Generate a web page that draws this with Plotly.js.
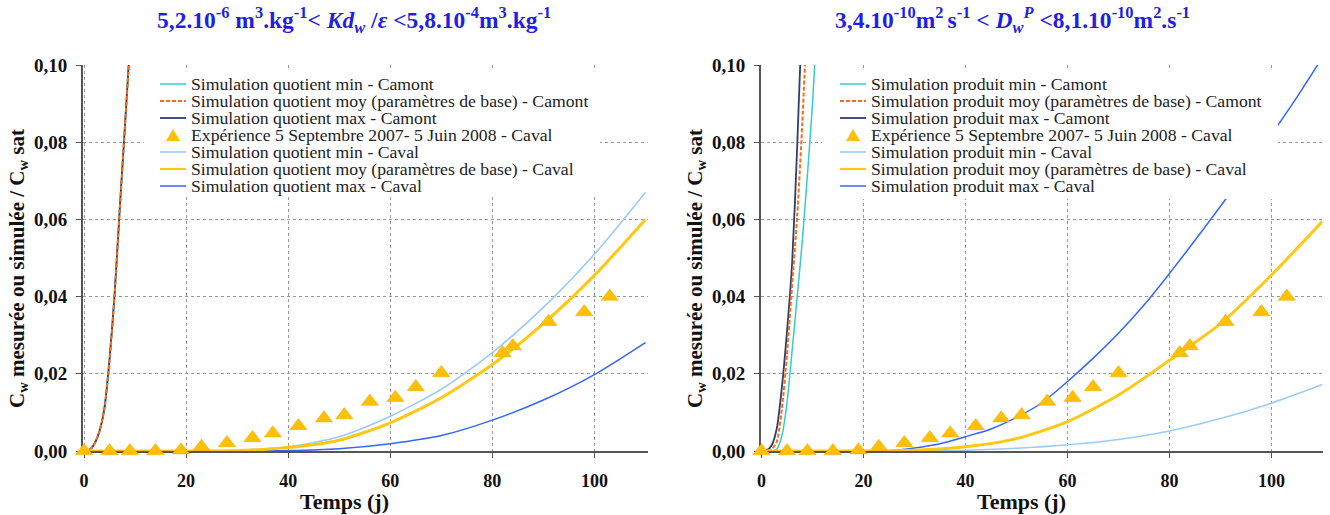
<!DOCTYPE html>
<html><head><meta charset="utf-8">
<script src="https://cdn.plot.ly/plotly-3.0.1.min.js"></script>
<style>html,body{margin:0;padding:0;background:#fff}#chart{width:1330px;height:515px}</style>
</head><body><div id="chart"></div><script>
// ---------- DATA ----------
const expDays   = [0,5,9,14,19,23,28,33,37,42,47,51,56,61,65,70,82,84,91,98,103];
const expValues = [0,0,0,0,0.0002,0.0011,0.0021,0.0034,0.0046,0.0065,0.0085,0.0093,0.0128,0.0138,0.0166,0.0202,0.0254,0.0272,0.0335,0.0360,0.0400];

// Left chart: "quotient"
const quotCamontDays = [0,1,2,3,4,5,6,7,8,9];
const quotCamontMin  = [0,0.0002,0.0018,0.0050,0.0110,0.0235,0.0405,0.0625,0.0835,0.1050];
const quotCamontMoy  = [0,0.0002,0.0018,0.0050,0.0110,0.0235,0.0405,0.0625,0.0835,0.1050];
const quotCamontMax  = [0,0.0002,0.0018,0.0050,0.0112,0.0238,0.0408,0.0628,0.0838,0.1055];
const quotCavalDays  = [0,20,30,40,50,60,70,80,90,100,110];
const quotCavalMin   = [0,0,0.0002,0.0011,0.0037,0.0090,0.0160,0.0255,0.0372,0.0510,0.0670];
const quotCavalMoy   = [0,0,0.0001,0.0009,0.0028,0.0073,0.0138,0.0224,0.0330,0.0455,0.0600];
const quotCavalMax   = [0,0,0,0.0001,0.0006,0.0019,0.0040,0.0080,0.0132,0.0198,0.0281];

// Right chart: "produit"
const prodCamontMinDays = [0,1,2,3,4,5,6,7,8,9,10,11];
const prodCamontMin     = [0,0,0,0.0005,0.0040,0.0125,0.0260,0.0400,0.0545,0.0715,0.0900,0.1130];
const prodCamontMoyDays = [0,1,2,3,4,5,6,7,8,9];
const prodCamontMoy     = [0,0,0.0005,0.0025,0.0110,0.0250,0.0430,0.0610,0.0850,0.1150];
const prodCamontMaxDays = [0,1,2,3,4,5,6,7,8];
const prodCamontMax     = [0,0.0002,0.0015,0.0059,0.0166,0.0310,0.0487,0.0790,0.1150];
const prodCavalMinDays  = [0,30,40,50,60,70,80,90,100,110];
const prodCavalMin      = [0,0,0.0002,0.0007,0.0016,0.0030,0.0052,0.0084,0.0124,0.0172];
const prodCavalMoyDays  = [0,20,30,40,50,60,70,80,90,100,110];
const prodCavalMoy      = [0,0,0.0002,0.0011,0.0032,0.0076,0.0145,0.0235,0.0330,0.0456,0.0595];
const prodCavalMaxDays  = [0,20,25,30,35,40,45,50,55,60,65,70,75,80,85,90,95,100,105,110];
const prodCavalMax      = [0,0,0.0001,0.0008,0.0019,0.0037,0.0057,0.0087,0.0125,0.0180,0.0240,0.0305,0.0378,0.0460,0.0546,0.0634,0.0725,0.0820,0.0917,0.1020];

const xTickVals = [0,20,40,60,80,100];
const yTickVals = [0,0.02,0.04,0.06,0.08,0.10];

const leftTitle  = "<b>5,2.10<sup>-6</sup> m<sup>3</sup>.kg<sup>-1</sup>&lt; <i>Kd<sub>w</sub></i> /<i>ε</i> &lt;5,8.10<sup>-4</sup>m<sup>3</sup>.kg<sup>-1</sup></b>";
const rightTitle = "<b>3,4.10<sup>-10</sup>m<sup>2 </sup>s<sup>-1</sup> &lt; <i>D<sub>w</sub></i><sup><i>P</i></sup> &lt;8,1.10<sup>-10</sup>m<sup>2</sup>.s<sup>-1</sup></b>";
const yTitle = "<b>C<sub>w</sub> mesurée ou simulée / C<sub>w</sub> sat</b>";
const xTitle = "<b>Temps (j)</b>";

const leftLegend = [
  "Simulation quotient min - Camont",
  "Simulation quotient moy (paramètres de base) - Camont",
  "Simulation quotient max - Camont",
  "Expérience 5 Septembre 2007- 5 Juin 2008 - Caval",
  "Simulation quotient min - Caval",
  "Simulation quotient moy (paramètres de base) - Caval",
  "Simulation quotient max - Caval"
];
const rightLegend = [
  "Simulation produit min - Camont",
  "Simulation produit moy (paramètres de base) - Camont",
  "Simulation produit max - Camont",
  "Expérience 5 Septembre 2007- 5 Juin 2008 - Caval",
  "Simulation produit min - Caval",
  "Simulation produit moy (paramètres de base) - Caval",
  "Simulation produit max - Caval"
];

// ---------- STYLES ----------
const W = 1330, H = 515;
const px = x => x / W;
const py = y => 1 - y / H;
const SERIF = "'Liberation Serif', 'Times New Roman', Times, serif";
const styles = [
  {color:'#33CCCC', width:1.5, dash:'solid'},
  {color:'#FF6A13', width:2,   dash:'4px,2px'},
  {color:'#2B3F6E', width:1.8, dash:'solid'},
  null,
  {color:'#9CCBFA', width:1.6, dash:'solid'},
  {color:'#FFC814', width:3,   dash:'solid'},
  {color:'#3366FF', width:1.5, dash:'solid'}
];
const markerColor = '#FFC000';

function line(x, y, s, name, xa, ya) {
  return {x, y, type:'scatter', mode:'lines', name, xaxis:xa, yaxis:ya, showlegend:false,
    line:{color:s.color, width:s.width, dash:s.dash, shape:'spline', smoothing:0.7}, hoverinfo:'skip'};
}
function markers(xa, ya, name) {
  return {x:expDays, y:expValues, type:'scatter', mode:'markers', name, xaxis:xa, yaxis:ya, showlegend:false,
    cliponaxis:false, marker:{symbol:'triangle-up', size:15, color:markerColor, line:{color:'#F2A900', width:0.5}}};
}

const traces = [
  line(quotCamontDays, quotCamontMin, styles[0], leftLegend[0], 'x', 'y'),
  line(quotCamontDays, quotCamontMax, styles[2], leftLegend[2], 'x', 'y'),
  line(quotCamontDays, quotCamontMoy, styles[1], leftLegend[1], 'x', 'y'),
  line(quotCavalDays, quotCavalMin, styles[4], leftLegend[4], 'x', 'y'),
  line(quotCavalDays, quotCavalMax, styles[6], leftLegend[6], 'x', 'y'),
  line(quotCavalDays, quotCavalMoy, styles[5], leftLegend[5], 'x', 'y'),
  markers('x', 'y', leftLegend[3]),
  line(prodCamontMinDays, prodCamontMin, styles[0], rightLegend[0], 'x2', 'y2'),
  line(prodCamontMaxDays, prodCamontMax, styles[2], rightLegend[2], 'x2', 'y2'),
  line(prodCamontMoyDays, prodCamontMoy, styles[1], rightLegend[1], 'x2', 'y2'),
  line(prodCavalMinDays, prodCavalMin, styles[4], rightLegend[4], 'x2', 'y2'),
  line(prodCavalMaxDays, prodCavalMax, styles[6], rightLegend[6], 'x2', 'y2'),
  line(prodCavalMoyDays, prodCavalMoy, styles[5], rightLegend[5], 'x2', 'y2'),
  markers('x2', 'y2', rightLegend[3])
];

const yDomain = [py(451), py(65)];
function xAxis(domain, range, anchor) {
  return {domain, range, anchor, tickvals:xTickVals, ticks:'outside', ticklen:5, tickcolor:'#555',
    showline:true, linecolor:'#555', linewidth:2, layer:'below traces',
    showgrid:true, gridcolor:'#999', griddash:'dot', gridwidth:1, zeroline:false,
    ticklabelstandoff:7,
    tickfont:{family:SERIF, size:18, color:'#111', weight:'bold'}};
}
function yAxis(anchor) {
  return {domain:yDomain, range:[0,0.1], anchor, tickvals:yTickVals, tickformat:'.2f',
    ticks:'outside', ticklen:5, tickcolor:'#555', showline:true, linecolor:'#555', linewidth:2,
    layer:'below traces', showgrid:true, gridcolor:'#999', griddash:'dot', gridwidth:1, zeroline:false,
    ticklabelstandoff:5,
    tickfont:{family:SERIF, size:19, color:'#111', weight:'bold'}};
}

const shapes = [];
const annotations = [];
function addLegend(names, box, lineX0, lineX1, textX, rows) {
  shapes.push({type:'rect', xref:'paper', yref:'paper', layer:'above',
    x0:px(box[0]), x1:px(box[1]), y0:py(box[3]), y1:py(box[2]),
    fillcolor:'#ffffff', line:{width:0}});
  names.forEach((n, i) => {
    const yy = rows[i];
    if (styles[i]) {
      shapes.push({type:'line', xref:'paper', yref:'paper', layer:'above',
        x0:px(lineX0), x1:px(lineX1), y0:py(yy), y1:py(yy),
        line:{color:styles[i].color, width:Math.min(styles[i].width, 2.2), dash:styles[i].dash}});
    } else {
      const cx = (lineX0 + lineX1) / 2;
      shapes.push({type:'path', xref:'paper', yref:'paper', layer:'above',
        path:`M ${px(cx-7)},${py(yy+6)} L ${px(cx+7)},${py(yy+6)} L ${px(cx)},${py(yy-6)} Z`,
        fillcolor:markerColor, line:{width:0}});
    }
    annotations.push({xref:'paper', yref:'paper', x:px(textX), y:py(yy), xanchor:'left', yanchor:'middle',
      showarrow:false, text:n, font:{family:SERIF, size:17.7, color:'#222'}});
  });
}
const rows = [84,101,118,135,152,169,186];
addLegend(leftLegend,  [144, 600, 68, 196], 160, 186, 189, rows);
addLegend(rightLegend, [822, 1278, 68, 199], 840, 866, 869, rows);

// titles
annotations.push({xref:'paper', yref:'paper', x:px(354), y:py(20), xanchor:'center', yanchor:'middle',
  showarrow:false, text:leftTitle, font:{family:SERIF, size:23.5, color:'#1F1FE6'}});
annotations.push({xref:'paper', yref:'paper', x:px(1012), y:py(20), xanchor:'center', yanchor:'middle',
  showarrow:false, text:rightTitle, font:{family:SERIF, size:23.5, color:'#1F1FE6'}});
// axis titles
[[344, 18], [1021, 696]].forEach(([xc, yc]) => {
  annotations.push({xref:'paper', yref:'paper', x:px(xc), y:py(501), xanchor:'center', yanchor:'middle',
    showarrow:false, text:xTitle, font:{family:SERIF, size:22, color:'#111'}});
  annotations.push({xref:'paper', yref:'paper', x:px(yc), y:py(269), xanchor:'center', yanchor:'middle',
    textangle:-90, showarrow:false, text:yTitle, font:{family:SERIF, size:21, color:'#111'}});
});

const layout = {
  width:W, height:H, margin:{l:0, r:0, t:0, b:0},
  paper_bgcolor:'#fff', plot_bgcolor:'#fff', showlegend:false,
  separators:', ',
  font:{family:SERIF},
  xaxis:  xAxis([px(83), px(648)], [-0.2, 110.5], 'y'),
  yaxis:  yAxis('x'),
  xaxis2: xAxis([px(761), px(1322.5)], [-0.1, 110], 'y2'),
  yaxis2: yAxis('x2'),
  shapes, annotations
};
Plotly.newPlot('chart', traces, layout, {staticPlot:true});
</script></body></html>
